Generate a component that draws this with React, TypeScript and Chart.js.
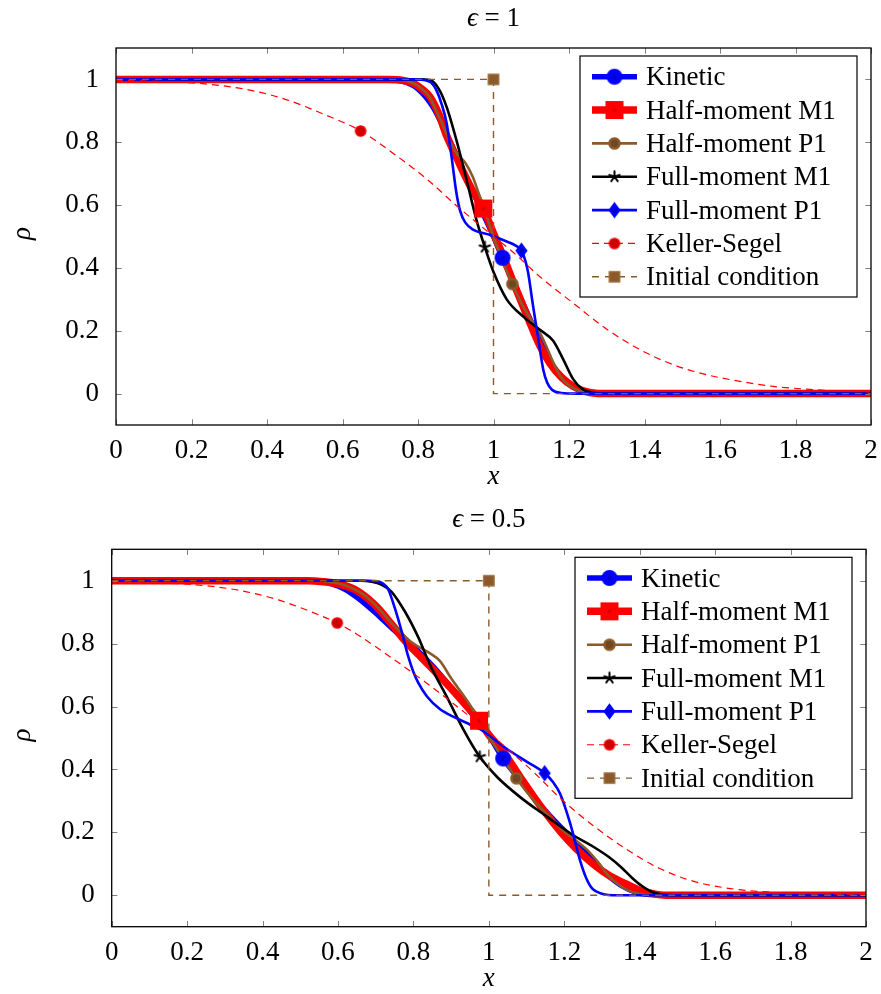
import React, { useEffect, useRef } from 'react';
import { Chart, registerables } from 'chart.js';

Chart.register(...registerables);

const FONT = '"Liberation Serif", "DejaVu Serif", serif';

// ---------- axes ----------
const xTicks = [0, 0.2, 0.4, 0.6, 0.8, 1, 1.2, 1.4, 1.6, 1.8, 2];
const xTickLabels = ['0', '0.2', '0.4', '0.6', '0.8', '1', '1.2', '1.4', '1.6', '1.8', '2'];
const yTicks = [0, 0.2, 0.4, 0.6, 0.8, 1];
const yTickLabels = ['0', '0.2', '0.4', '0.6', '0.8', '1'];
const xRange = [0, 2];
const yRange = [-0.1, 1.1];

const seriesNames = ['Kinetic', 'Half-moment M1', 'Half-moment P1', 'Full-moment M1', 'Full-moment P1', 'Keller-Segel', 'Initial condition'];

// ---------- epsilon = 1 ----------
const kinetic1 = [[0, 1], [0.7, 1], [0.74, 0.998], [0.77, 0.99], [0.8, 0.97], [0.84, 0.912], [0.88, 0.815], [0.92, 0.708], [0.96, 0.605], [1.0, 0.5], [1.024, 0.432], [1.06, 0.335], [1.1, 0.228], [1.14, 0.125], [1.18, 0.052], [1.22, 0.016], [1.26, 0.003], [1.3, 0], [2, 0]];
const halfM1_1 = [[0, 1], [0.72, 1], [0.76, 0.997], [0.787, 0.988], [0.81, 0.97], [0.832, 0.944], [0.855, 0.89], [0.876, 0.82], [0.9, 0.757], [0.92, 0.705], [0.945, 0.645], [0.973, 0.589], [1.0, 0.51], [1.026, 0.436], [1.052, 0.356], [1.088, 0.25], [1.123, 0.152], [1.15, 0.095], [1.18, 0.052], [1.211, 0.023], [1.24, 0.008], [1.27, 0.001], [1.3, 0], [2, 0]];
const halfP1_1 = [[0, 1], [0.74, 1], [0.77, 0.995], [0.8, 0.98], [0.83, 0.945], [0.86, 0.87], [0.885, 0.8], [0.905, 0.76], [0.925, 0.735], [0.945, 0.69], [0.96, 0.64], [0.975, 0.59], [1.0, 0.5], [1.025, 0.42], [1.05, 0.349], [1.075, 0.285], [1.1, 0.235], [1.12, 0.2], [1.14, 0.15], [1.16, 0.095], [1.18, 0.05], [1.21, 0.018], [1.24, 0.004], [1.28, 0], [2, 0]];
const fullM1_1 = [[0, 1], [0.8, 1], [0.832, 0.998], [0.855, 0.97], [0.876, 0.912], [0.902, 0.806], [0.929, 0.679], [0.955, 0.552], [0.977, 0.466], [0.999, 0.39], [1.035, 0.3], [1.079, 0.245], [1.123, 0.203], [1.158, 0.168], [1.185, 0.108], [1.211, 0.046], [1.235, 0.015], [1.26, 0.003], [1.3, 0], [2, 0]];
const fullP1_1 = [[0, 1], [0.8, 1], [0.82, 0.997], [0.835, 0.99], [0.849, 0.965], [0.863, 0.92], [0.876, 0.86], [0.889, 0.753], [0.902, 0.637], [0.912, 0.58], [0.925, 0.545], [0.946, 0.522], [0.991, 0.505], [1.035, 0.484], [1.06, 0.47], [1.074, 0.455], [1.085, 0.42], [1.092, 0.383], [1.105, 0.277], [1.119, 0.171], [1.132, 0.075], [1.142, 0.035], [1.155, 0.012], [1.18, 0.002], [1.22, 0], [2, 0]];
const keller1 = [[0, 0.997], [0.1, 0.994], [0.214, 0.988], [0.337, 0.97], [0.443, 0.939], [0.549, 0.89], [0.648, 0.836], [0.743, 0.757], [0.827, 0.679], [0.902, 0.598], [0.975, 0.525], [1.052, 0.45], [1.123, 0.372], [1.211, 0.288], [1.3, 0.205], [1.388, 0.14], [1.476, 0.092], [1.565, 0.06], [1.653, 0.039], [1.741, 0.023], [1.83, 0.014], [1.92, 0.008], [2, 0.005]];
const initial1 = [[0, 1], [1, 1], [1, 0], [2, 0]];
const marks1 = [[1.024, 0.432], [0.973, 0.589], [1.05, 0.349], [0.977, 0.466], [1.074, 0.455], [0.648, 0.836], [1, 1]];

// ---------- epsilon = 0.5 ----------
const kinetic2 = [[0, 1], [0.5, 1], [0.55, 0.998], [0.58, 0.992], [0.62, 0.972], [0.654, 0.944], [0.707, 0.89], [0.75, 0.842], [0.8, 0.79], [0.85, 0.73], [0.9, 0.66], [0.95, 0.585], [1.0, 0.508], [1.038, 0.435], [1.08, 0.37], [1.12, 0.31], [1.16, 0.255], [1.2, 0.205], [1.24, 0.155], [1.276, 0.112], [1.31, 0.07], [1.35, 0.032], [1.39, 0.01], [1.43, 0.002], [1.47, 0], [2, 0]];
const halfM1_2 = [[0, 1], [0.52, 1], [0.56, 0.997], [0.6, 0.99], [0.645, 0.972], [0.698, 0.923], [0.742, 0.862], [0.777, 0.81], [0.822, 0.755], [0.889, 0.672], [0.935, 0.61], [0.974, 0.555], [1.0, 0.51], [1.039, 0.455], [1.083, 0.376], [1.136, 0.285], [1.188, 0.205], [1.23, 0.15], [1.276, 0.1], [1.32, 0.062], [1.365, 0.035], [1.4, 0.016], [1.435, 0.005], [1.47, 0], [2, 0]];
const halfP1_2 = [[0, 1], [0.54, 1], [0.58, 0.996], [0.62, 0.985], [0.66, 0.962], [0.7, 0.922], [0.75, 0.855], [0.8, 0.8], [0.84, 0.772], [0.87, 0.745], [0.9, 0.69], [0.95, 0.605], [1.0, 0.505], [1.04, 0.43], [1.073, 0.372], [1.12, 0.3], [1.16, 0.25], [1.188, 0.215], [1.23, 0.175], [1.26, 0.145], [1.29, 0.105], [1.315, 0.065], [1.339, 0.038], [1.365, 0.018], [1.393, 0.006], [1.43, 0], [2, 0]];
const fullM1_2 = [[0, 1], [0.66, 1], [0.689, 0.997], [0.715, 0.988], [0.742, 0.965], [0.777, 0.903], [0.813, 0.82], [0.845, 0.73], [0.889, 0.63], [0.933, 0.526], [0.976, 0.44], [1.022, 0.376], [1.083, 0.312], [1.154, 0.25], [1.225, 0.19], [1.276, 0.155], [1.32, 0.12], [1.35, 0.09], [1.38, 0.055], [1.405, 0.03], [1.43, 0.012], [1.455, 0.003], [1.49, 0], [2, 0]];
const fullP1_2 = [[0, 1], [0.68, 1], [0.705, 0.998], [0.72, 0.99], [0.733, 0.973], [0.751, 0.912], [0.769, 0.838], [0.786, 0.76], [0.8, 0.71], [0.813, 0.675], [0.836, 0.632], [0.87, 0.592], [0.907, 0.567], [0.95, 0.543], [0.978, 0.527], [1.048, 0.465], [1.1, 0.425], [1.148, 0.388], [1.17, 0.36], [1.189, 0.323], [1.216, 0.227], [1.242, 0.11], [1.258, 0.055], [1.275, 0.02], [1.3, 0.005], [1.34, 0], [2, 0]];
const keller2 = [[0, 0.997], [0.1, 0.994], [0.212, 0.988], [0.336, 0.97], [0.442, 0.939], [0.548, 0.892], [0.598, 0.866], [0.654, 0.827], [0.742, 0.755], [0.83, 0.679], [0.9, 0.615], [0.978, 0.54], [1.05, 0.465], [1.12, 0.39], [1.188, 0.31], [1.276, 0.222], [1.365, 0.146], [1.453, 0.085], [1.541, 0.045], [1.63, 0.023], [1.718, 0.012], [1.806, 0.006], [1.9, 0.004], [2, 0.003]];
const initial2 = [[0, 1], [1, 1], [1, 0], [2, 0]];
const marks2 = [[1.038, 0.435], [0.974, 0.555], [1.073, 0.372], [0.976, 0.44], [1.148, 0.388], [0.598, 0.866], [1, 1]];

// ---------- styles ----------
const BROWN = '#8b5a2b';
const lineStyles = [
  { color: '#0000ff', width: 5.5, dash: [] as number[] },
  { color: '#ff0000', width: 7.5, dash: [] as number[] },
  { color: BROWN, width: 2.6, dash: [] as number[] },
  { color: '#000000', width: 2.6, dash: [] as number[] },
  { color: '#0000ff', width: 2.6, dash: [] as number[] },
  { color: '#ff0000', width: 1.2, dash: [7, 5] },
  { color: BROWN, width: 1.4, dash: [7, 6] },
];
type MarkSpec = { shape: 'circle' | 'square' | 'diamond' | 'star'; size: number; fill: string; stroke: string; lw: number };
const markSpecs: MarkSpec[] = [
  { shape: 'circle', size: 10.5, fill: '#0000cc', stroke: '#0000ff', lw: 5.5 },
  { shape: 'square', size: 10.5, fill: '#cc0000', stroke: '#ff0000', lw: 7.5 },
  { shape: 'circle', size: 10, fill: '#6f4822', stroke: BROWN, lw: 2.6 },
  { shape: 'star', size: 11, fill: '#000', stroke: '#000', lw: 2 },
  { shape: 'diamond', size: 12, fill: '#0000cc', stroke: '#0000ff', lw: 2.6 },
  { shape: 'circle', size: 10.5, fill: '#cc0000', stroke: '#ff0000', lw: 1.2 },
  { shape: 'square', size: 10.3, fill: '#8a5a2c', stroke: '#9a6a3a', lw: 1.4 },
];

function makeMark(s: MarkSpec): HTMLCanvasElement {
  const w = Math.ceil(s.size + s.lw + 6);
  const c = document.createElement('canvas');
  c.width = w;
  c.height = w;
  const g = c.getContext('2d')!;
  const cx = w / 2, cy = w / 2, h = s.size / 2;
  g.lineWidth = s.lw;
  g.strokeStyle = s.stroke;
  g.fillStyle = s.fill;
  g.beginPath();
  if (s.shape === 'circle') {
    g.arc(cx, cy, h, 0, Math.PI * 2);
  } else if (s.shape === 'square') {
    g.rect(cx - h, cy - h, 2 * h, 2 * h);
  } else if (s.shape === 'diamond') {
    g.moveTo(cx, cy - h);
    g.lineTo(cx + h * 0.75, cy);
    g.lineTo(cx, cy + h);
    g.lineTo(cx - h * 0.75, cy);
    g.closePath();
  } else {
    for (let k = 0; k < 5; k++) {
      const a = -Math.PI / 2 + (k * 2 * Math.PI) / 5;
      g.moveTo(cx, cy);
      g.lineTo(cx + h * Math.cos(a), cy + h * Math.sin(a));
    }
    g.lineCap = 'round';
    g.stroke();
    return c;
  }
  g.fill();
  g.stroke();
  return c;
}

type Geom = { yW: number; xH: number; right: number; top: number; title: string[] };

function decorPlugin(g: Geom) {
  return {
    id: 'decor',
    afterDatasetsDraw(chart: any) {
      const { ctx, chartArea: a, scales } = chart;
      ctx.save();
      ctx.setLineDash([]);
      ctx.strokeStyle = '#808080';
      ctx.lineWidth = 1;
      ctx.beginPath();
      const tl = 5.7;
      xTicks.forEach((v) => {
        const px = Math.round(scales.x.getPixelForValue(v)) + 0.5;
        ctx.moveTo(px, a.bottom);
        ctx.lineTo(px, a.bottom - tl);
        ctx.moveTo(px, a.top);
        ctx.lineTo(px, a.top + tl);
      });
      yTicks.forEach((v) => {
        const py = Math.round(scales.y.getPixelForValue(v)) + 0.5;
        ctx.moveTo(a.left, py);
        ctx.lineTo(a.left + tl, py);
        ctx.moveTo(a.right, py);
        ctx.lineTo(a.right - tl, py);
      });
      ctx.stroke();
      ctx.strokeStyle = '#000';
      ctx.lineWidth = 1.3;
      ctx.strokeRect(a.left, a.top, a.right - a.left, a.bottom - a.top);
      ctx.restore();
    },
    afterDraw(chart: any) {
      const { ctx, chartArea: a } = chart;
      ctx.save();
      // legend
      const bw = 277, bh = 241;
      const x0 = a.right - 14 - bw, y0 = a.top + 8;
      ctx.fillStyle = '#fff';
      ctx.fillRect(x0, y0, bw, bh);
      ctx.strokeStyle = '#000';
      ctx.lineWidth = 1.2;
      ctx.setLineDash([]);
      ctx.strokeRect(x0, y0, bw, bh);
      const lines = chart.data.datasets.filter((d: any) => !d.isMark);
      lines.forEach((d: any, i: number) => {
        const cy = y0 + 20.7 + i * 33.35;
        ctx.beginPath();
        ctx.setLineDash(d.borderDash || []);
        ctx.lineWidth = d.borderWidth;
        ctx.strokeStyle = d.borderColor;
        ctx.moveTo(x0 + 12, cy);
        ctx.lineTo(x0 + 57, cy);
        ctx.stroke();
        ctx.setLineDash([]);
        const img = d.legendMark as HTMLCanvasElement;
        ctx.drawImage(img, x0 + 34.5 - img.width / 2, cy - img.height / 2);
        ctx.fillStyle = '#000';
        ctx.font = `27px ${FONT}`;
        ctx.textAlign = 'left';
        ctx.textBaseline = 'alphabetic';
        ctx.fillText(d.label, x0 + 66, cy + 8.5);
      });
      // title
      const cx = (a.left + a.right) / 2;
      const parts = [
        { t: g.title[0], f: `italic 27px ${FONT}` },
        { t: g.title[1], f: `27px ${FONT}` },
      ];
      let total = 0;
      parts.forEach((p) => { ctx.font = p.f; total += ctx.measureText(p.t).width; });
      let px = cx - total / 2;
      ctx.fillStyle = '#000';
      ctx.textAlign = 'left';
      ctx.textBaseline = 'alphabetic';
      parts.forEach((p) => { ctx.font = p.f; ctx.fillText(p.t, px, a.top - 22); px += ctx.measureText(p.t).width; });
      // x label
      ctx.font = `italic 27px ${FONT}`;
      ctx.textAlign = 'center';
      ctx.fillText('x', cx, a.bottom + 59);
      // y label
      ctx.save();
      ctx.translate(23, (a.top + a.bottom) / 2 - 3);
      ctx.rotate(-Math.PI / 2);
      ctx.textBaseline = 'middle';
      ctx.textAlign = 'center';
      ctx.fillText('ρ', 0, 0);
      ctx.restore();
      ctx.restore();
    },
  };
}

function buildConfig(series: number[][][], marks: number[][], g: Geom, imgs: HTMLCanvasElement[]): any {
  const datasets: any[] = series.map((pts, i) => ({
    label: seriesNames[i],
    data: pts.map(([x, y]) => ({ x, y })),
    borderColor: lineStyles[i].color,
    borderWidth: lineStyles[i].width,
    borderDash: lineStyles[i].dash,
    pointRadius: 0,
    pointHoverRadius: 0,
    tension: 0,
    cubicInterpolationMode: i === 6 ? 'default' : 'monotone',
    fill: false,
    order: 100 - i,
    legendMark: imgs[i],
  }));
  marks.forEach(([x, y], i) => {
    datasets.push({
      label: seriesNames[i] + ' mark',
      data: [{ x, y }],
      showLine: false,
      pointStyle: imgs[i],
      pointRadius: 6,
      pointHoverRadius: 6,
      order: 50 - i,
      isMark: true,
    });
  });
  const tickFont = { family: FONT, size: 27 };
  return {
    type: 'line',
    data: { datasets },
    options: {
      responsive: false,
      animation: false,
      events: [],
      layout: { padding: { left: 0, right: g.right, top: g.top, bottom: 0 } },
      plugins: { legend: { display: false }, tooltip: { enabled: false }, title: { display: false } },
      scales: {
        x: {
          type: 'linear',
          min: xRange[0],
          max: xRange[1],
          grid: { display: false },
          border: { display: false },
          ticks: {
            padding: 2,
            font: tickFont,
            color: '#000',
            maxRotation: 0,
            autoSkip: false,
            callback: (_v: any, idx: number) => xTickLabels[idx],
          },
          afterBuildTicks: (s: any) => { s.ticks = xTicks.map((v) => ({ value: v })); },
          afterFit: (s: any) => { s.height = g.xH; },
        },
        y: {
          type: 'linear',
          min: yRange[0],
          max: yRange[1],
          grid: { display: false },
          border: { display: false },
          ticks: {
            padding: 9,
            font: tickFont,
            color: '#000',
            autoSkip: false,
            callback: (_v: any, idx: number) => yTickLabels[idx],
          },
          afterBuildTicks: (s: any) => { s.ticks = yTicks.map((v) => ({ value: v })); },
          afterFit: (s: any) => { s.width = g.yW; },
        },
      },
    },
    plugins: [decorPlugin(g)],
  };
}

export default function App() {
  const ref1 = useRef<HTMLCanvasElement>(null);
  const ref2 = useRef<HTMLCanvasElement>(null);
  useEffect(() => {
    const imgs = markSpecs.map(makeMark);
    const g1: Geom = { yW: 116, xH: 72, right: 10, top: 48, title: ['ϵ', ' = 1'] };
    const g2: Geom = { yW: 111.7, xH: 67.3, right: 15, top: 52.3, title: ['ϵ', ' = 0.5'] };
    const c1 = new Chart(ref1.current!, buildConfig([kinetic1, halfM1_1, halfP1_1, fullM1_1, fullP1_1, keller1, initial1], marks1, g1, imgs));
    const c2 = new Chart(ref2.current!, buildConfig([kinetic2, halfM1_2, halfP1_2, fullM1_2, fullP1_2, keller2, initial2], marks2, g2, imgs));
    return () => { c1.destroy(); c2.destroy(); };
  }, []);
  return (
    <div style={{ position: 'absolute', left: 0, top: 0, width: 881, height: 994, background: '#fff' }}>
      <canvas ref={ref1} width={881} height={497} style={{ position: 'absolute', left: 0, top: 0, width: 881, height: 497 }} />
      <canvas ref={ref2} width={881} height={497} style={{ position: 'absolute', left: 0, top: 497, width: 881, height: 497 }} />
    </div>
  );
}
